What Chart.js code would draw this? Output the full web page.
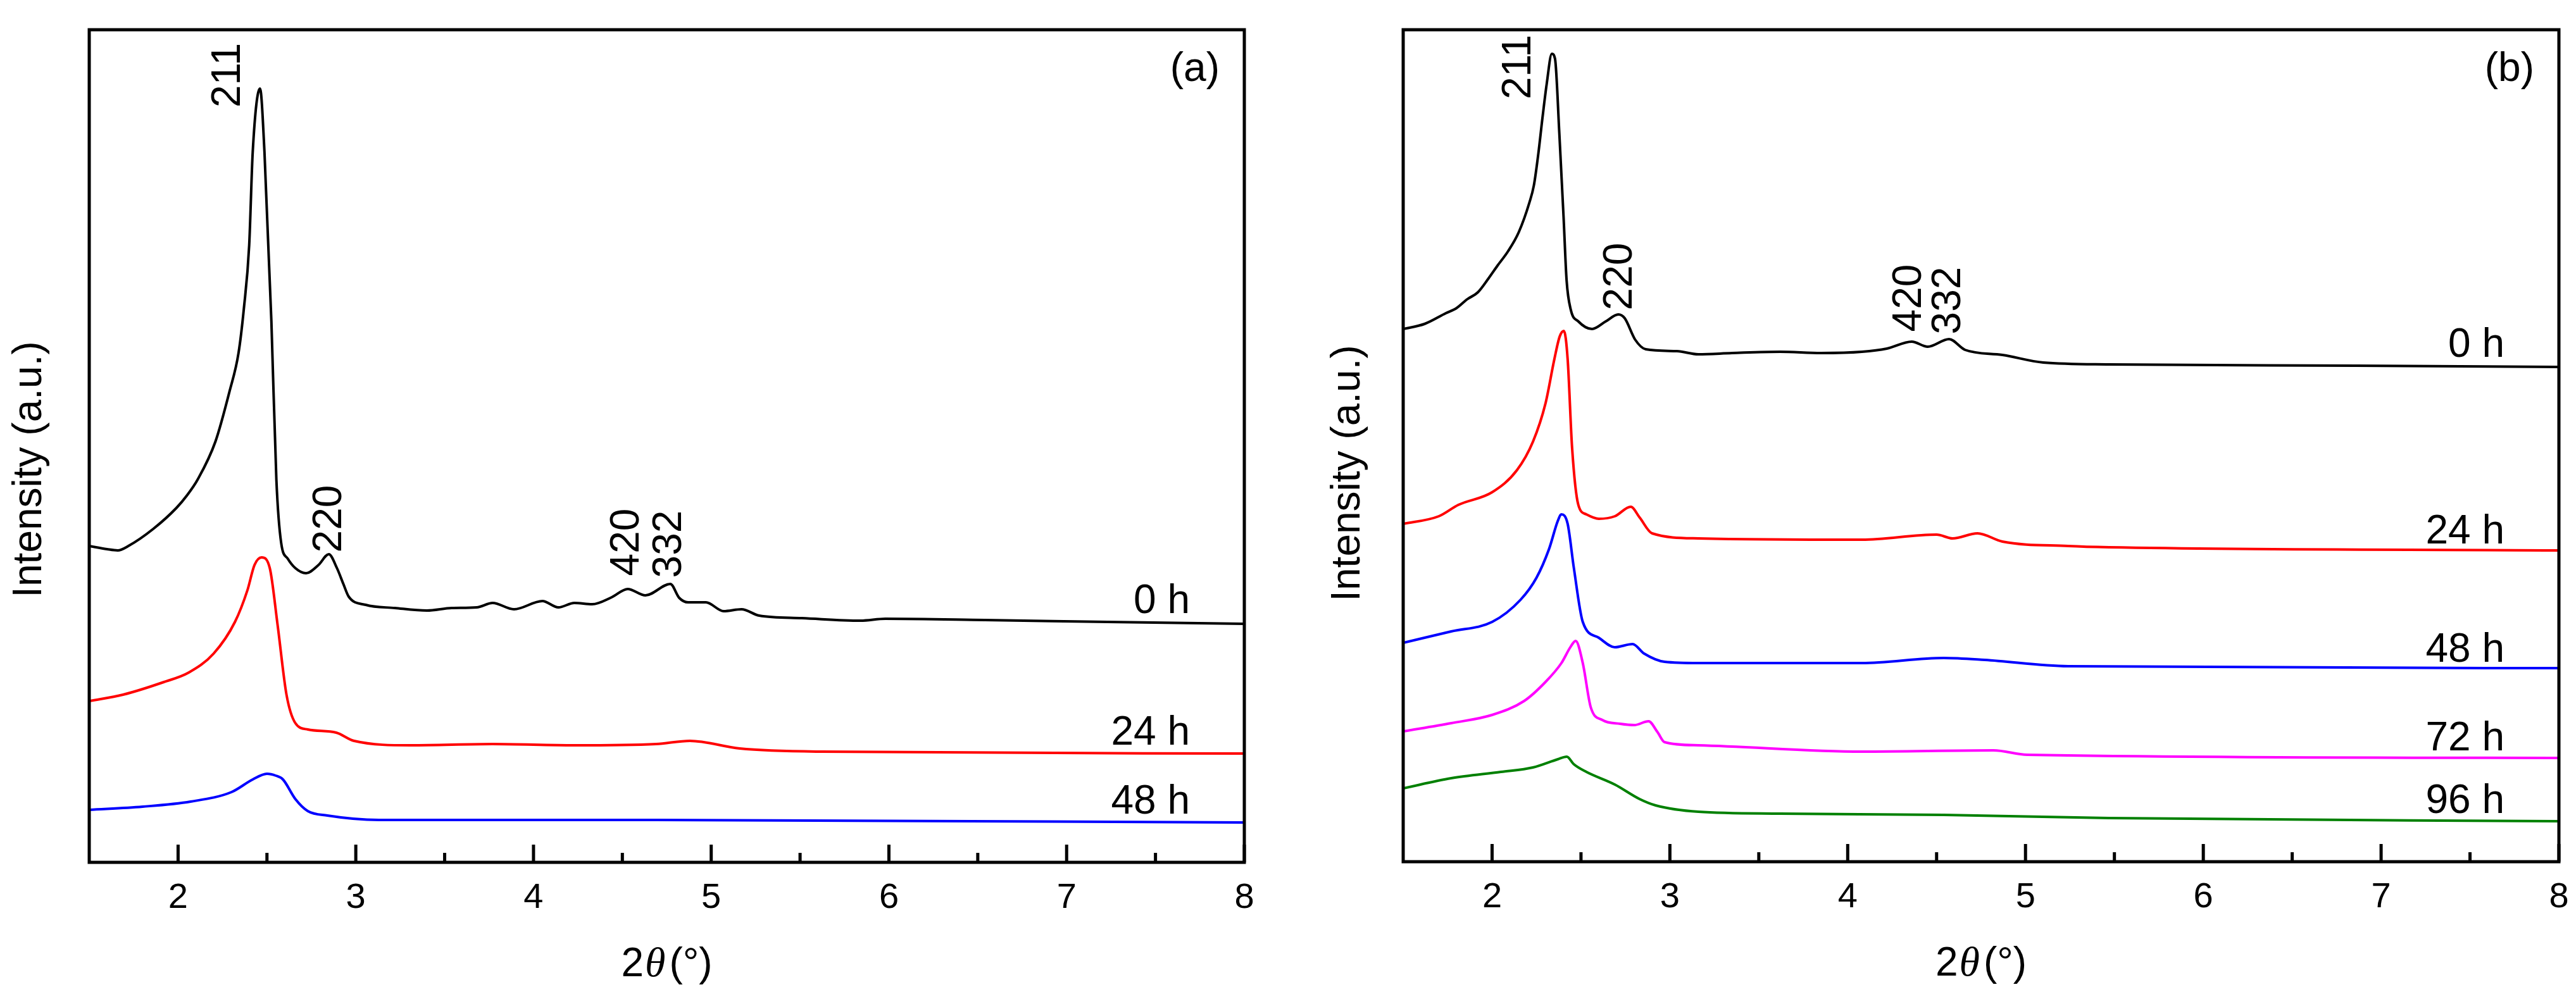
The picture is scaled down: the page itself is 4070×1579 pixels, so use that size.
<!DOCTYPE html>
<html>
<head>
<meta charset="utf-8">
<script src="https://cdn.jsdelivr.net/npm/chart.js@4.4.1/dist/chart.umd.min.js"></script>
<style>
    body { margin: 0; background: #fff; width: 4070px; height: 1579px; overflow: hidden; }
    canvas { position: absolute; top: 0; }
    #graficoA { left: 0; }
    #graficoB { left: 2035px; }
</style>
</head>
<body>
<canvas id="graficoA" width="2035" height="1579"></canvas>
<canvas id="graficoB" width="2035" height="1579"></canvas>
<script>
// Marcas del eje X (2θ en grados)
const ticksX = [2, 3, 4, 5, 6, 7, 8];
const ticksMenores = [2.5, 3.5, 4.5, 5.5, 6.5, 7.5];

// Nombres de las curvas y de los picos
const tiemposA = ['0 h', '24 h', '48 h'];
const tiemposB = ['0 h', '24 h', '48 h', '72 h', '96 h'];
const picos = ['211', '220', '420', '332'];

// Panel (a) - 0 h
const a0hX = [1.50, 1.60, 1.66, 1.72, 1.86, 1.99, 2.05, 2.11, 2.21, 2.29, 2.34, 2.37, 2.40, 2.42, 2.461, 2.486, 2.525, 2.553, 2.58, 2.617, 2.66, 2.72, 2.79, 2.848, 2.894, 2.93, 2.96, 3.056, 3.22, 3.40, 3.54, 3.68, 3.77, 3.89, 4.05, 4.14, 4.23, 4.33, 4.44, 4.53, 4.63, 4.77, 4.82, 4.87, 4.97, 5.07, 5.17, 5.27, 5.51, 5.84, 5.98, 6.54, 7.23, 8.0];
const a0hY = [500, 495, 493, 500, 527, 560, 580, 605, 665, 745, 805, 875, 975, 1123, 1223, 1123, 855, 605, 505, 480, 465, 457, 470, 487, 465, 440, 420, 407, 402, 398, 402, 403, 410, 400, 413, 403, 410, 408, 419, 432, 422, 440, 418, 411, 411, 397, 400, 390, 386, 382, 385, 383, 380, 377];

// Panel (a) - 24 h
const a24hX = [1.50, 1.69, 1.92, 2.06, 2.20, 2.32, 2.39, 2.43, 2.47, 2.516, 2.56, 2.61, 2.66, 2.73, 2.89, 2.99, 3.31, 3.77, 4.23, 4.69, 4.88, 5.16, 5.62, 8.0];
const a24hY = [255, 265, 285, 300, 330, 380, 430, 470, 482, 465, 375, 265, 220, 210, 205, 192, 185, 187, 185, 187, 192, 180, 175, 172];

// Panel (a) - 48 h
const a48hX = [1.50, 1.80, 2.07, 2.30, 2.42, 2.50, 2.55, 2.59, 2.66, 2.73, 2.84, 3.13, 4.69, 8.0];
const a48hY = [83, 88, 96, 111, 131, 140, 137, 131, 100, 81, 74, 67, 67, 63];

// Panel (b) - 0 h
const b0hX = [1.50, 1.62, 1.74, 1.80, 1.86, 1.92, 1.98, 2.03, 2.09, 2.15, 2.21, 2.235, 2.26, 2.283, 2.307, 2.336, 2.354, 2.378, 2.402, 2.419, 2.443, 2.485, 2.562, 2.639, 2.71, 2.746, 2.805, 2.864, 3.04, 3.16, 3.35, 3.62, 3.85, 4.08, 4.22, 4.36, 4.45, 4.57, 4.66, 4.87, 5.10, 5.47, 6.86, 8.0];
const b0hY = [842, 850, 867, 875, 889, 900, 922, 942, 965, 995, 1042, 1069, 1119, 1175, 1229, 1277, 1269, 1152, 1019, 919, 872, 854, 842, 854, 865, 859, 825, 810, 807, 802, 804, 806, 804, 806, 811, 822, 814, 826, 809, 801, 789, 786, 784, 782];

// Panel (b) - 24 h
const b24hX = [1.50, 1.70, 1.81, 2.00, 2.14, 2.23, 2.30, 2.35, 2.38, 2.404, 2.425, 2.45, 2.485, 2.53, 2.60, 2.69, 2.78, 2.83, 2.90, 3.16, 4.08, 4.50, 4.59, 4.73, 4.87, 5.24, 5.47, 8.0];
const b24hY = [534, 546, 564, 584, 619, 664, 724, 794, 830, 839, 794, 654, 564, 549, 542, 546, 561, 544, 519, 511, 509, 517, 511, 519, 506, 499, 497, 492];

// Panel (b) - 48 h
const b48hX = [1.50, 1.77, 2.00, 2.16, 2.25, 2.32, 2.37, 2.39, 2.425, 2.46, 2.51, 2.60, 2.69, 2.79, 2.855, 2.97, 3.16, 4.08, 4.54, 4.77, 5.24, 8.0];
const b48hY = [346, 364, 379, 414, 449, 494, 539, 549, 534, 464, 379, 354, 339, 344, 329, 316, 314, 314, 322, 319, 309, 306];

// Panel (b) - 72 h
const b72hX = [1.50, 1.77, 2.00, 2.18, 2.30, 2.39, 2.44, 2.47, 2.51, 2.555, 2.62, 2.72, 2.80, 2.88, 2.93, 2.97, 3.16, 4.08, 4.82, 5.01, 8.0];
const b72hY = [206, 219, 232, 254, 284, 314, 339, 349, 314, 244, 224, 218, 216, 222, 205, 189, 184, 174, 176, 169, 164];

// Panel (b) - 96 h
const b96hX = [1.50, 1.77, 2.05, 2.23, 2.37, 2.42, 2.46, 2.53, 2.69, 2.83, 2.92, 3.16, 3.62, 4.54, 5.47, 8.0];
const b96hY = [116, 132, 142, 149, 162, 166, 154, 142, 122, 99, 89, 79, 76, 74, 69, 64];

const fuente = '"Liberation Sans", Arial, sans-serif';

// Unir x e y en puntos para Chart.js
function puntos(xs, ys) {
    return xs.map((x, i) => ({ x: x, y: ys[i] }));
}

function serie(xs, ys, color) {
    return {
        data: puntos(xs, ys),
        borderColor: color,
        borderWidth: 4,
        pointRadius: 0,
        fill: false,
        cubicInterpolationMode: 'monotone'
    };
}

// Plugin que dibuja el marco, las marcas y los textos
const plugEjes = {
    id: 'plugEjes',
    afterDraw(chart) {
        const ctx = chart.ctx;
        const area = chart.chartArea;
        const sx = chart.scales.x;
        const sy = chart.scales.y;
        const cfg = chart.options.plugins.plugEjes;

        ctx.save();
        ctx.strokeStyle = '#000';
        ctx.fillStyle = '#000';
        ctx.lineWidth = 5;
        ctx.strokeRect(area.left, area.top, area.right - area.left, area.bottom - area.top);

        // marcas hacia dentro
        ticksX.forEach(v => {
            const x = sx.getPixelForValue(v);
            ctx.beginPath();
            ctx.moveTo(x, area.bottom);
            ctx.lineTo(x, area.bottom - 28);
            ctx.stroke();
        });
        ticksMenores.forEach(v => {
            const x = sx.getPixelForValue(v);
            ctx.beginPath();
            ctx.moveTo(x, area.bottom);
            ctx.lineTo(x, area.bottom - 15);
            ctx.stroke();
        });

        // números del eje X
        ctx.font = '56px ' + fuente;
        ctx.textAlign = 'center';
        ctx.textBaseline = 'alphabetic';
        ticksX.forEach(v => {
            ctx.fillText(String(v), sx.getPixelForValue(v), area.bottom + 72);
        });

        // título del eje X: 2θ (°)
        const cx = (area.left + area.right) / 2;
        const yb = area.bottom + 180;
        ctx.font = '64px ' + fuente;
        const w1 = ctx.measureText('2').width;
        const w3 = ctx.measureText('(°)').width;
        ctx.font = 'italic 66px "Liberation Serif", serif';
        const w2 = ctx.measureText('θ').width;
        const total = w1 + w2 + 8 + w3;
        let x0 = cx - total / 2;
        ctx.textAlign = 'left';
        ctx.font = '64px ' + fuente;
        ctx.fillText('2', x0, yb);
        ctx.font = 'italic 66px "Liberation Serif", serif';
        ctx.fillText('θ', x0 + w1 + 2, yb);
        ctx.font = '64px ' + fuente;
        ctx.fillText('(°)', x0 + w1 + w2 + 8, yb);

        // título del eje Y
        ctx.save();
        ctx.translate(area.left - cfg.yTituloDx, cfg.yTituloY);
        ctx.rotate(-Math.PI / 2);
        ctx.textAlign = 'center';
        ctx.textBaseline = 'middle';
        ctx.font = '64px ' + fuente;
        ctx.fillText('Intensity (a.u.)', 0, 0);
        ctx.restore();

        // letra del panel
        ctx.textAlign = 'right';
        ctx.font = '64px ' + fuente;
        ctx.fillText(cfg.panel, area.right - 39, area.top + 81);

        // nombres de las curvas
        cfg.tiempos.forEach((t, i) => {
            ctx.fillText(t, area.right - 86, sy.getPixelForValue(cfg.tiemposY[i]));
        });

        // índices de los picos, girados
        ctx.font = '64px ' + fuente;
        ctx.textAlign = 'center';
        ctx.textBaseline = 'middle';
        picos.forEach((p, i) => {
            ctx.save();
            ctx.translate(sx.getPixelForValue(cfg.picosX[i]), sy.getPixelForValue(cfg.picosY[i]));
            ctx.rotate(-Math.PI / 2);
            ctx.fillText(p, 0, 0);
            ctx.restore();
        });
        ctx.restore();
    }
};

function crearGrafico(id, datasets, yMax, padding, extra) {
    new Chart(document.getElementById(id), {
        type: 'line',
        data: { datasets: datasets },
        options: {
            responsive: false,
            animation: false,
            devicePixelRatio: 1,
            layout: { padding: padding },
            scales: {
                x: { type: 'linear', min: 1.5, max: 8, display: false },
                y: { min: 0, max: yMax, display: false }
            },
            plugins: {
                legend: { display: false },
                tooltip: { enabled: false },
                plugEjes: extra
            }
        },
        plugins: [plugEjes]
    });
}

// Panel (a)
crearGrafico('graficoA', [
    serie(a0hX, a0hY, '#000000'),
    serie(a24hX, a24hY, '#ff0000'),
    serie(a48hX, a48hY, '#0000ff')
], 1316, { left: 141, right: 69, top: 47, bottom: 216 }, {
    panel: '(a)',
    tiempos: tiemposA,
    tiemposY: [394, 186, 77],
    picosX: [2.286, 2.856, 4.528, 4.767],
    picosY: [1244, 543, 506, 503],
    yTituloDx: 94,
    yTituloY: 742
});

// Panel (b)
crearGrafico('graficoB', [
    serie(b0hX, b0hY, '#000000'),
    serie(b24hX, b24hY, '#ff0000'),
    serie(b48hX, b48hY, '#0000ff'),
    serie(b72hX, b72hY, '#ff00ff'),
    serie(b96hX, b96hY, '#008000')
], 1315, { left: 182, right: 27, top: 47, bottom: 217 }, {
    panel: '(b)',
    tiempos: tiemposB,
    tiemposY: [798, 503, 316, 176, 77],
    picosX: [2.152, 2.721, 4.35, 4.571],
    picosY: [1256, 925, 891, 887],
    yTituloDx: 87,
    yTituloY: 748
});
</script>
</body>
</html>
